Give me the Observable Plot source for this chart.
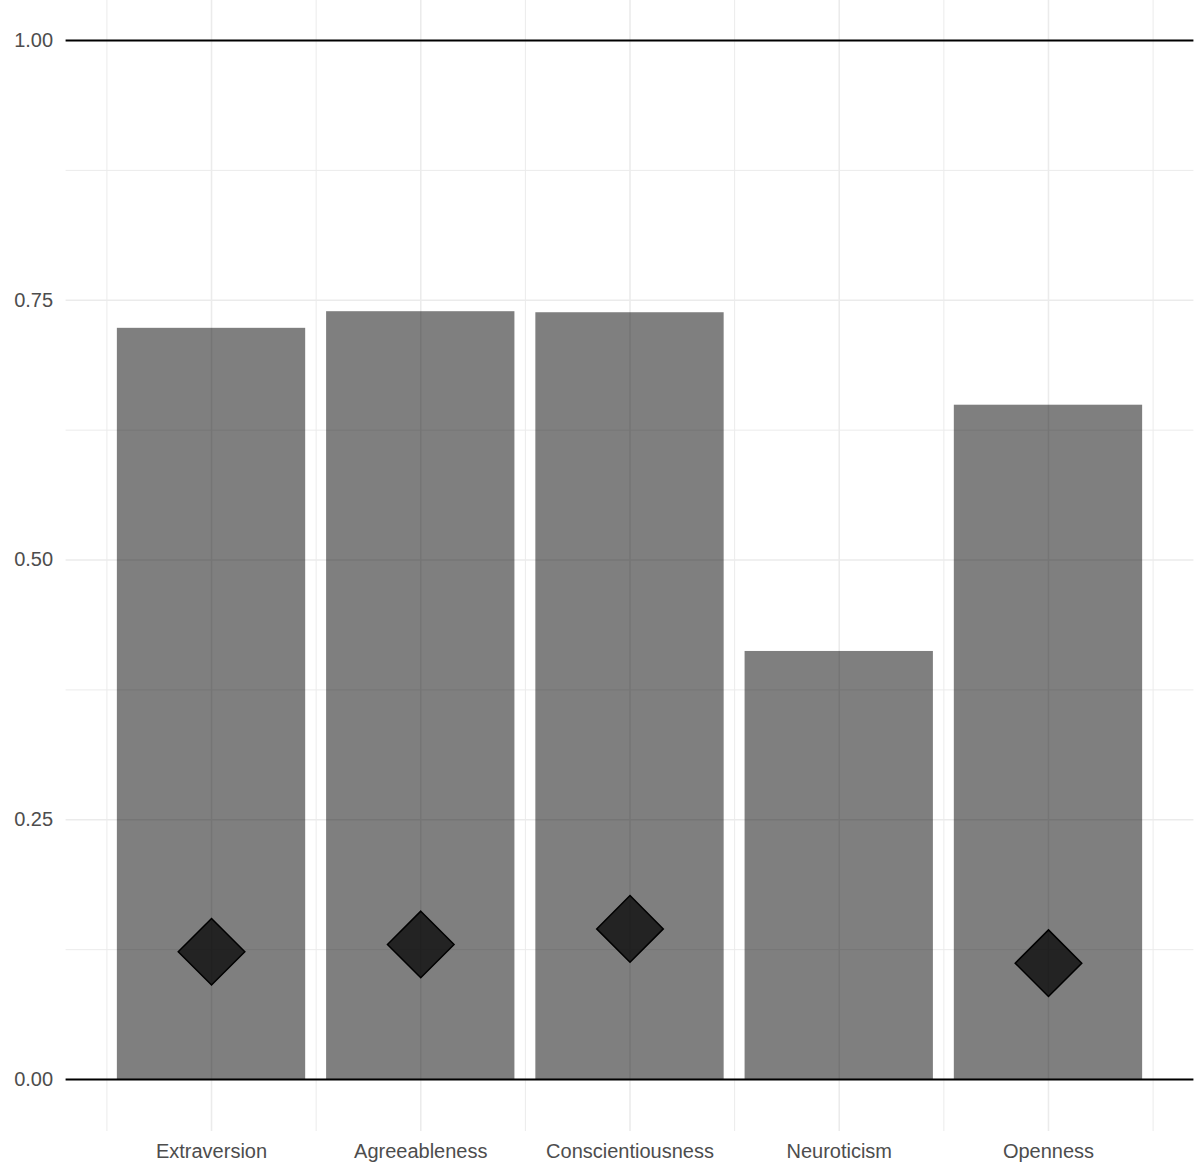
<!DOCTYPE html>
<html>
<head>
<meta charset="utf-8">
<script src="https://cdn.jsdelivr.net/npm/d3@7"></script>
<script src="https://cdn.jsdelivr.net/npm/@observablehq/plot@0.6"></script>
<style>
  html, body { margin: 0; padding: 0; background: #fff; }
  #chart svg { display: block; }
</style>
</head>
<body>
<div id="chart"></div>
<script>
const traits = ["Extraversion", "Agreeableness", "Conscientiousness", "Neuroticism", "Openness"];
const barValues = [0.723, 0.739, 0.738, 0.412, 0.649];
const diamondValues = [0.123, 0.130, 0.145, null, 0.112];
const yMajorTicks = [0, 0.25, 0.5, 0.75, 1];
const yMinorTicks = [0.125, 0.375, 0.625, 0.875];
const refLines = [0, 1];

const pos = traits.map((t, i) => i + 1);
const bars = traits.map((t, i) => ({trait: t, x: pos[i], value: barValues[i]}));
const diamonds = traits.map((t, i) => ({trait: t, x: pos[i], value: diamondValues[i]})).filter(d => d.value != null);
const xMinor = [0.5, ...pos.map(p => p + 0.5)];

const grid = "#ebebeb";

const plot = Plot.plot({
  width: 1200,
  height: 1169,
  marginLeft: 65.6,
  marginRight: 6.6,
  marginTop: 0,
  marginBottom: 38,
  style: {fontFamily: "'Liberation Sans', Arial, sans-serif", background: "#fff"},
  x: {type: "linear", domain: [0.305, 5.695], axis: null},
  y: {domain: [-0.05, 1.0385], axis: null},
  marks: [
    Plot.ruleY(yMinorTicks, {stroke: grid, strokeWidth: 1}),
    Plot.ruleY(yMajorTicks, {stroke: grid, strokeWidth: 1.6}),
    Plot.ruleX(xMinor, {stroke: grid, strokeWidth: 1}),
    Plot.ruleX(pos, {stroke: grid, strokeWidth: 1.6}),
    Plot.rectY(bars, {x1: d => d.x - 0.45, x2: d => d.x + 0.45, y1: 0, y2: "value", fill: "black", fillOpacity: 0.5}),
    Plot.ruleY(refLines, {stroke: "black", strokeWidth: 2}),
    Plot.dot(diamonds, {x: "x", y: "value", symbol: "diamond2", r: 30, fill: "black", fillOpacity: 0.72, stroke: "black", strokeWidth: 1.5}),
    Plot.axisY(yMajorTicks, {tickSize: 0, tickPadding: 13, tickFormat: d3.format(".2f"), fontSize: 20, fill: "#4d4d4d", label: null}),
    Plot.axisX(pos, {tickSize: 0, tickPadding: 12, tickFormat: d => traits[d - 1], fontSize: 20, fill: "#4d4d4d", label: null})
  ]
});
document.getElementById("chart").appendChild(plot);
</script>
</body>
</html>
